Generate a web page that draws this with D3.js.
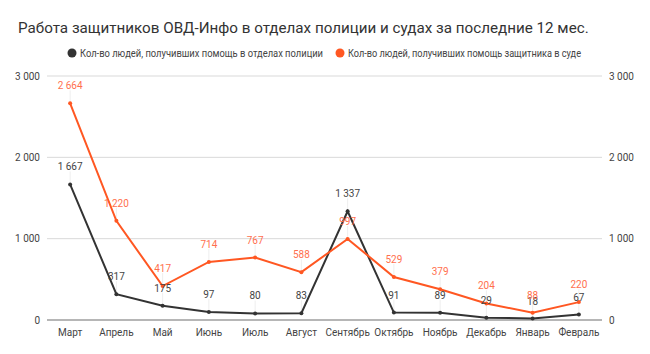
<!DOCTYPE html>
<html>
<head>
<meta charset="utf-8">
<script src="https://cdn.jsdelivr.net/npm/d3@7"></script>
<style>
  body { margin: 0; background: #fff; }
  text { font-family: Roboto, sans-serif; }
</style>
</head>
<body>
<script>
var months = ["Март","Апрель","Май","Июнь","Июль","Август","Сентябрь","Октябрь","Ноябрь","Декабрь","Январь","Февраль"];
var police = [1667, 317, 175, 97, 80, 83, 1337, 91, 89, 29, 18, 67];
var court = [2664, 1220, 417, 714, 767, 588, 997, 529, 379, 204, 88, 220];
var yTicks = [0, 1000, 2000, 3000];
var seriesNames = ["Кол-во людей, получивших помощь в отделах полиции", "Кол-во людей, получивших помощь защитника в суде"];
var colors = ["#333333", "#ff5722"];
var labelColors = ["#444444", "#ff6f4e"];

var svg = d3.select("body")
    .append("svg")
    .attr("width", 650)
    .attr("height", 354)
    .style("display", "block");

var margin = {top: 76, right: 48, bottom: 34, left: 47};
var width = 650 - margin.left - margin.right;
var height = 354 - margin.top - margin.bottom;
var g = svg.append("g").attr("transform", "translate(" + margin.left + "," + margin.top + ")");

var fmt = function(d) { return d3.format(",d")(d).replace(/,/g, " "); };

var x = d3.scaleBand()
    .domain(months)
    .range([0, width]);

var y = d3.scaleLinear()
    .domain([0, 3000])
    .range([height, 0]);

// gridlines
g.selectAll(".grid")
    .data(yTicks)
    .enter()
    .append("line")
    .attr("x1", 0)
    .attr("x2", width)
    .attr("y1", function(d) { return y(d); })
    .attr("y2", function(d) { return y(d); })
    .attr("stroke", function(d) { return d === 0 ? "#9e9e9e" : "#d9d9d9"; })
    .attr("stroke-width", function(d) { return d === 0 ? 1.5 : 1; });

var yLeft = d3.axisLeft(y).tickValues(yTicks).tickSize(0).tickPadding(7).tickFormat(fmt);
var yRight = d3.axisRight(y).tickValues(yTicks).tickSize(0).tickPadding(7).tickFormat(fmt);
var xAxis = d3.axisBottom(x).tickSize(0).tickPadding(9);

function cleanAxis(sel) {
    sel.select(".domain").remove();
    sel.selectAll("text").style("font-size", "10px").attr("fill", "#444");
}

g.append("g").call(yLeft).call(cleanAxis);
g.append("g").attr("transform", "translate(" + width + ",0)").call(yRight).call(cleanAxis);
g.append("g").attr("transform", "translate(0," + height + ")").call(xAxis).call(cleanAxis);

var cx = function(i) { return x(months[i]) + x.bandwidth() / 2; };
var line = d3.line()
    .x(function(d, i) { return cx(i); })
    .y(function(d) { return y(d); });

[police, court].forEach(function(data, s) {
    // connectors from label to point
    g.selectAll(".conn" + s)
        .data(data)
        .enter()
        .append("line")
        .attr("x1", function(d, i) { return cx(i); })
        .attr("x2", function(d, i) { return cx(i); })
        .attr("y1", function(d) { return y(d) - 13; })
        .attr("y2", function(d) { return y(d); })
        .attr("stroke", "#eeeeee")
        .attr("stroke-width", 1);
});

[police, court].forEach(function(data, s) {
    g.append("path")
        .datum(data)
        .attr("d", line)
        .attr("fill", "none")
        .attr("stroke", colors[s])
        .attr("stroke-width", 2);

    g.selectAll(".pt" + s)
        .data(data)
        .enter()
        .append("circle")
        .attr("cx", function(d, i) { return cx(i); })
        .attr("cy", function(d) { return y(d); })
        .attr("r", 2)
        .attr("fill", colors[s]);
});

[police, court].forEach(function(data, s) {
    g.selectAll(".lbl" + s)
        .data(data)
        .enter()
        .append("text")
        .attr("x", function(d, i) { return cx(i); })
        .attr("y", function(d) { return y(d) - 14; })
        .attr("text-anchor", "middle")
        .style("font-size", "10px")
        .attr("fill", labelColors[s])
        .text(fmt);
});

svg.append("text")
    .attr("x", 18)
    .attr("y", 33)
    .text("Работа защитников ОВД-Инфо в отделах полиции и судах за последние 12 мес.")
    .style("font-size", "15.2px")
    .attr("fill", "#333");

// legend text is condensed in the original
var legendX = [72, 340];
var legendLen = [243, 233];
seriesNames.forEach(function(name, s) {
    svg.append("circle")
        .attr("cx", legendX[s])
        .attr("cy", 53)
        .attr("r", 4.5)
        .attr("fill", colors[s]);
    svg.append("text")
        .attr("x", legendX[s] + 8)
        .attr("y", 56.5)
        .text(name)
        .style("font-size", "10px")
        .attr("textLength", legendLen[s])
        .attr("lengthAdjust", "spacingAndGlyphs")
        .attr("fill", "#444");
});
</script>
</body>
</html>
